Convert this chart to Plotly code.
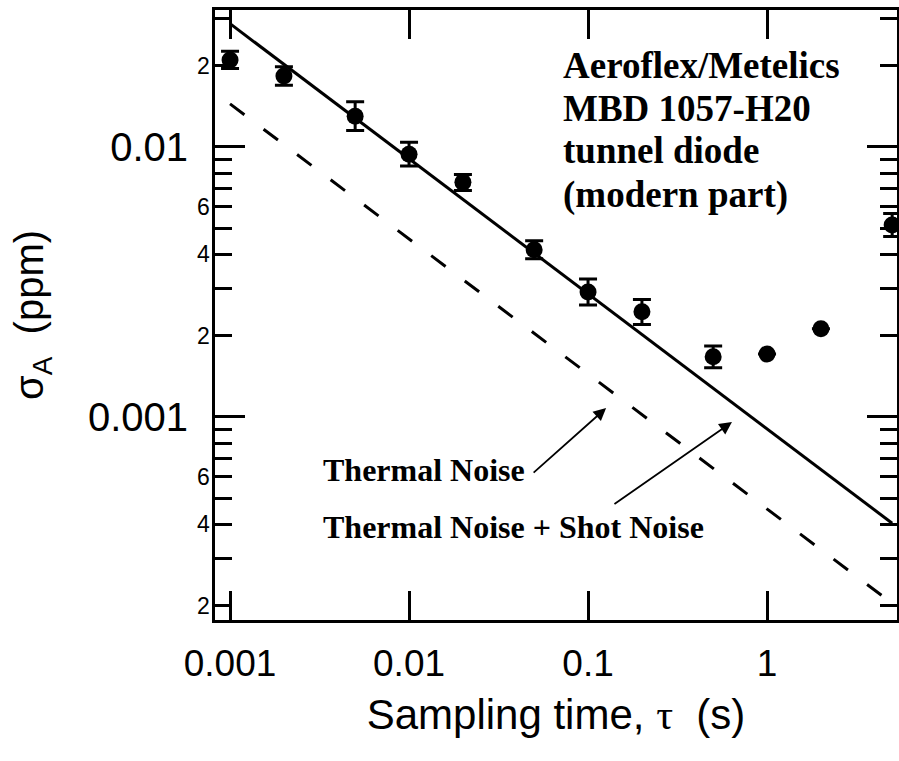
import plotly.graph_objects as go
import numpy as np

# ---- data ----
tau = [0.001, 0.002, 0.005, 0.01, 0.02, 0.05, 0.1, 0.2, 0.5, 1, 2, 5]
sigma = [0.0210, 0.0183, 0.0130, 0.0094, 0.0074, 0.00416, 0.0029, 0.00245,
         0.00167, 0.00171, 0.00212, 0.00514]
err_plus = [0.0016, 0.0015, 0.0017, 0.0010, 0.0005, 0.00033, 0.00034, 0.00027,
            0.00016, 0.0, 0.0, 0.00053]
err_minus = [0.0015, 0.0014, 0.0015, 0.0009, 0.0005, 0.00031, 0.0003, 0.00025,
             0.00015, 0.0, 0.0, 0.00048]

shot_tau = [0.001, 5]
shot_sigma = [0.0286, 0.000404]      # thermal + shot noise
thermal_tau = [0.001, 5]
thermal_sigma = [0.01443, 0.000204]  # thermal noise only

x_major = [0.001, 0.01, 0.1, 1]
x_major_text = ["0.001", "0.01", "0.1", "1"]
y_major = [0.001, 0.01]
y_major_text = ["0.001", "0.01"]
y_minor = [2e-4, 3e-4, 4e-4, 5e-4, 6e-4, 7e-4, 8e-4, 9e-4,
           2e-3, 3e-3, 4e-3, 5e-3, 6e-3, 7e-3, 8e-3, 9e-3,
           2e-2, 3e-2]
y_minor_labels = [2e-4, 4e-4, 6e-4, 2e-3, 4e-3, 6e-3, 2e-2]
y_minor_text = ["2", "4", "6", "2", "4", "6", "2"]

label_lines = ["Aeroflex/Metelics", "MBD 1057-H20", "tunnel diode", "(modern part)"]

SANS = "Liberation Sans, Arial, sans-serif"
SERIF = "Liberation Serif, Times New Roman, serif"

fig = go.Figure()
fig.add_trace(go.Scatter(x=shot_tau, y=shot_sigma, mode="lines",
                         line=dict(color="black", width=3), showlegend=False))
fig.add_trace(go.Scatter(x=thermal_tau, y=thermal_sigma, mode="lines",
                         line=dict(color="black", width=3, dash="18px,24px"),
                         showlegend=False))
fig.add_trace(go.Scatter(
    x=tau, y=sigma, mode="markers", cliponaxis=False,
    marker=dict(symbol="circle", size=17, color="black"),
    error_y=dict(type="data", symmetric=False, array=err_plus, arrayminus=err_minus,
                 color="black", thickness=3, width=9),
    showlegend=False))

axis_common = dict(type="log", showline=True, linewidth=3, linecolor="black",
                   mirror="allticks", ticks="inside", tickwidth=3, tickcolor="black",
                   showgrid=False, zeroline=False, automargin=False)

fig.update_xaxes(**axis_common, range=[-3.084, 0.726], tickmode="array",
                 tickvals=x_major, ticktext=x_major_text, ticklen=29,
                 ticklabelstandoff=9,
                 tickfont=dict(family=SANS, size=37, color="black"),
                 title=dict(text="Sampling time, <span style='font-family:Liberation Serif'>τ</span>\u00a0\u00a0(s)",
                            font=dict(family=SANS, size=42, color="black"), standoff=17))
fig.update_yaxes(**axis_common, range=[-3.752, -1.493], tickmode="array",
                 tickvals=y_major, ticktext=y_major_text, ticklen=30,
                 ticklabelstandoff=16,
                 tickfont=dict(family=SANS, size=40, color="black"),
                 minor=dict(tickmode="array", tickvals=y_minor, ticks="inside",
                            ticklen=17, tickwidth=3, tickcolor="black", showgrid=False),
                 title=dict(text="σ<sub>A</sub>\u00a0\u00a0(ppm)",
                            font=dict(family=SANS, size=40, color="black"), standoff=32))

annotations = []
for v, t in zip(y_minor_labels, y_minor_text):
    annotations.append(dict(x=0, xref="paper", xanchor="right", xshift=-3,
                            y=np.log10(v), yref="y", yanchor="middle",
                            text=t, showarrow=False,
                            font=dict(family=SANS, size=23, color="black")))

line_y = [-1.700, -1.859, -2.015, -2.178]
for t, yy in zip(label_lines, line_y):
    annotations.append(dict(x=-1.150, y=yy, xref="x", yref="y", xanchor="left",
                            yanchor="middle", align="left", showarrow=False, text=t,
                            font=dict(family=SERIF, size=37, color="black", weight="bold")))
annotations.append(dict(x=-2.491, y=-3.196, xref="x", yref="y", xanchor="left",
                        yanchor="middle", showarrow=False, text="Thermal Noise",
                        font=dict(family=SERIF, size=32, color="black", weight="bold")))
annotations.append(dict(x=-2.491, y=-3.407, xref="x", yref="y", xanchor="left",
                        yanchor="middle", showarrow=False, text="Thermal Noise + Shot Noise",
                        font=dict(family=SERIF, size=32, color="black", weight="bold")))
# arrows
annotations.append(dict(x=-0.899, y=-2.967, xref="x", yref="y", text="",
                        showarrow=True, ax=-74, ay=66, arrowhead=2, arrowsize=1.4,
                        arrowwidth=1.8, arrowcolor="black", standoff=0))
annotations.append(dict(x=-0.196, y=-3.019, xref="x", yref="y", text="",
                        showarrow=True, ax=-119, ay=83, arrowhead=2, arrowsize=1.4,
                        arrowwidth=1.8, arrowcolor="black", standoff=0))

fig.update_layout(width=899, height=761, margin=dict(l=215, r=2, t=10, b=141),
                  paper_bgcolor="white", plot_bgcolor="white",
                  annotations=annotations, showlegend=False)

fig.write_html("out.html", config={"displayModeBar": False},
               post_script="document.body.style.margin='0px';document.body.style.padding='0px';")
